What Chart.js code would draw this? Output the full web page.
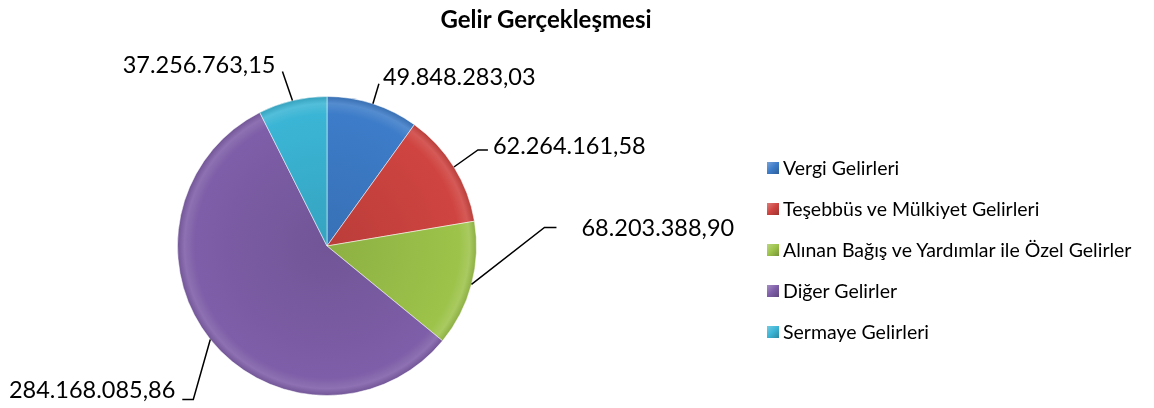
<!DOCTYPE html>
<html>
<head>
<meta charset="utf-8">
<script src="https://cdn.jsdelivr.net/npm/chart.js@4"></script>
<style>
  html, body { margin: 0; padding: 0; background: #fff; }
  #wrap { position: relative; width: 1154px; height: 408px; overflow: hidden; font-family: Lato, "Open Sans", sans-serif; color: #000; }
  #c { position: absolute; left: 0; top: 0; }
  .title { position: absolute; left: 546px; top: 5px; transform: translateX(-50%); font-weight: bold; font-size: 24px; line-height: 28px; white-space: nowrap; }
  .lbl { position: absolute; font-size: 23.5px; line-height: 24px; white-space: nowrap; }
  .leg { position: absolute; left: 767px; font-size: 19.5px; line-height: 22px; white-space: nowrap; display: flex; align-items: center; }
  .leg .box { width: 12px; height: 12px; margin-right: 4px; box-sizing: border-box; flex: none; }
</style>
</head>
<body>
<div id="wrap">
  <canvas id="c" width="1154" height="408"></canvas>
  <div class="title">Gelir Gerçekleşmesi</div>
</div>
<script>
// ---- data ----
const categories = [
  "Vergi Gelirleri",
  "Teşebbüs ve Mülkiyet Gelirleri",
  "Alınan Bağış ve Yardımlar ile Özel Gelirler",
  "Diğer Gelirler",
  "Sermaye Gelirleri"
];
const values = [49848283.03, 62264161.58, 68203388.90, 284168085.86, 37256763.15];
const colors = ["#3D7CC9", "#CF4440", "#9DC34A", "#7E5EA8", "#3BB5D5"];

// ---- label leader-line styling (relative to slice edge) ----
const elbowOffsets = [[6, -20], [24, -17], [73, -57], [-17, 60], [-10, -29]];
const horizLen = [0, 10, 12, -11, 0];
const textOffsets = [[4, -8], [5, -5], [25, 0], [-7, -10], [-7, -8]];
const textAlign = ["left", "left", "left", "right", "right"];

function fmtTR(v) {
  const neg = v < 0; v = Math.abs(v);
  const parts = v.toFixed(2).split(".");
  const intp = parts[0].replace(/\B(?=(\d{3})+(?!\d))/g, ".");
  return (neg ? "-" : "") + intp + "," + parts[1];
}

function shade(hex, f) {
  const n = parseInt(hex.slice(1), 16);
  let r = (n >> 16) & 255, g = (n >> 8) & 255, b = n & 255;
  if (f >= 0) { r += (255 - r) * f; g += (255 - g) * f; b += (255 - b) * f; }
  else { r *= 1 + f; g *= 1 + f; b *= 1 + f; }
  return `rgb(${Math.round(r)},${Math.round(g)},${Math.round(b)})`;
}

function sliceFill(ctx) {
  const chart = ctx.chart;
  const base = colors[ctx.dataIndex];
  const a = chart.chartArea;
  if (!a) return base;
  const cx = (a.left + a.right) / 2, cy = (a.top + a.bottom) / 2;
  const r = Math.min(a.right - a.left, a.bottom - a.top) / 2;
  const g = chart.ctx.createRadialGradient(cx, cy, 0, cx, cy, r);
  g.addColorStop(0, shade(base, -0.1));
  g.addColorStop(0.88, base);
  g.addColorStop(0.95, shade(base, 0.12));
  g.addColorStop(1, shade(base, -0.12));
  return g;
}

const wrap = document.getElementById("wrap");

// legend (HTML text)
categories.forEach((name, i) => {
  const row = document.createElement("div");
  row.className = "leg";
  row.style.top = (168 + i * 41 - 11) + "px";
  const box = document.createElement("span");
  box.className = "box";
  box.style.background = `linear-gradient(135deg, ${shade(colors[i], 0.3)}, ${colors[i]} 50%, ${shade(colors[i], -0.25)})`;
  const t = document.createElement("span");
  t.textContent = name;
  row.appendChild(box); row.appendChild(t);
  wrap.appendChild(row);
});

const labelEls = values.map((v, i) => {
  const d = document.createElement("div");
  d.className = "lbl";
  d.textContent = fmtTR(v);
  wrap.appendChild(d);
  return d;
});

const leaderPlugin = {
  id: "leaders",
  afterDraw(chart) {
    const meta = chart.getDatasetMeta(0);
    const c = chart.ctx;
    c.save();
    c.strokeStyle = "#000";
    c.lineWidth = 1.5;
    meta.data.forEach((el, i) => {
      const mid = (el.startAngle + el.endAngle) / 2;
      const ax = el.x + Math.cos(mid) * el.outerRadius;
      const ay = el.y + Math.sin(mid) * el.outerRadius;
      const ex = ax + elbowOffsets[i][0];
      const ey = ay + elbowOffsets[i][1];
      const hx = ex + horizLen[i];
      c.beginPath();
      c.moveTo(ax, ay);
      c.lineTo(ex, ey);
      if (horizLen[i] !== 0) c.lineTo(hx, ey);
      c.stroke();
      const lx = hx + textOffsets[i][0];
      const cy = ey + textOffsets[i][1];
      const L = labelEls[i];
      L.style.top = (cy - 12) + "px";
      L.style.left = lx + "px";
      L.style.transform = textAlign[i] === "left" ? "none" : "translateX(-100%)";
    });
    c.restore();
  }
};

new Chart(document.getElementById("c"), {
  type: "pie",
  data: {
    labels: categories,
    datasets: [{
      data: values,
      backgroundColor: sliceFill,
      borderColor: "rgba(255,255,255,0.5)",
      borderWidth: 1
    }]
  },
  options: {
    responsive: false,
    animation: false,
    layout: { padding: { left: 177, right: 677, top: 96, bottom: 12 } },
    plugins: {
      legend: { display: false },
      title: { display: false },
      tooltip: { enabled: false }
    }
  },
  plugins: [leaderPlugin]
});
</script>
</body>
</html>
